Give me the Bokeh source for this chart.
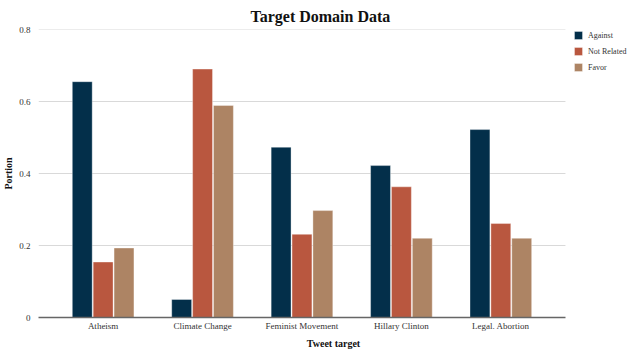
from bokeh.plotting import figure
from bokeh.models import Range1d, ColumnDataSource, Legend, LegendItem, FixedTicker
from bokeh.transform import dodge
from bokeh.embed import file_html
from bokeh.resources import INLINE

targets = ["Atheism", "Climate Change", "Feminist Movement", "Hillary Clinton", "Legal. Abortion"]
against = [0.655, 0.05, 0.473, 0.422, 0.522]
not_related = [0.154, 0.69, 0.231, 0.363, 0.261]
favor = [0.193, 0.589, 0.297, 0.22, 0.22]
series_names = ["Against", "Not Related", "Favor"]
colors = ["#032f4a", "#b9573f", "#ad8464"]
y_ticks = [0, 0.2, 0.4, 0.6, 0.8]

FONT = "Liberation Serif"

n = len(targets)
idx = list(range(n))
cat_start, cat_end = -0.65, n - 1 + 0.65
src = ColumnDataSource(dict(x=idx, target=targets, against=against, not_related=not_related, favor=favor))

FW, FH = 590, 288
p = figure(frame_width=FW, frame_height=FH, x_range=Range1d(cat_start, cat_end + 0.634),
           y_range=Range1d(0, 0.8),
           output_backend="svg", toolbar_location=None,
           min_border_left=0, min_border_right=0, min_border_top=0, min_border_bottom=0)

p.title.text = "Target Domain Data"
p.title.align = "left"
p.title.text_font = FONT
p.title.text_font_size = "16px"
p.title.text_font_style = "bold"
p.title.text_color = "#111111"
p.title.offset = 212
p.title.standoff = 10

# horizontal grid lines limited to the category span
grid_src = ColumnDataSource(dict(y=y_ticks[1:], x0=[cat_start] * (len(y_ticks) - 1),
                                 x1=[cat_end] * (len(y_ticks) - 1)))
p.segment(x0="x0", x1="x1", y0="y", y1="y", source=grid_src,
          line_color="#d9d9d9", line_width=1, level="underlay")

w = 0.2
renderers = []
for col, off, c in zip(["against", "not_related", "favor"], [-0.21, 0.0, 0.21], colors):
    r = p.vbar(x=dodge("x", off), top=col, width=w, source=src,
               fill_color=c, line_color="white", line_alpha=0.35, line_width=1)
    renderers.append(r)

legend = Legend(items=[LegendItem(label=nm, renderers=[r]) for nm, r in zip(series_names, renderers)],
                location=(535, FH - 43))
legend.label_text_font = FONT
legend.label_text_font_size = "8px"
legend.label_text_color = "#333333"
legend.glyph_width = 10
legend.glyph_height = 10
legend.label_height = 10
legend.spacing = 6
legend.padding = 0
legend.margin = 0
legend.border_line_color = None
legend.background_fill_alpha = 0
legend.label_standoff = 5
p.add_layout(legend)

p.xaxis.axis_label = "Tweet target"
p.yaxis.axis_label = "Portion"
for ax in (p.xaxis, p.yaxis):
    ax.axis_label_text_font = FONT
    ax.axis_label_text_font_style = "bold"
    ax.axis_label_text_font_size = "10px"
    ax.axis_label_text_color = "#111111"
    ax.major_label_text_font = FONT
    ax.major_label_text_font_size = "9px"
    ax.major_label_text_color = "#333333"
    ax.major_tick_line_color = None
    ax.minor_tick_line_color = None
    ax.major_tick_out = 0
    ax.major_tick_in = 0
    ax.minor_tick_out = 0
    ax.minor_tick_in = 0

p.xaxis.ticker = FixedTicker(ticks=idx)
p.xaxis.major_label_overrides = {i: t for i, t in zip(idx, targets)}
p.xaxis.bounds = (cat_start, cat_end)
p.xaxis.axis_line_color = "#666666"
p.xaxis.axis_line_width = 1.5
p.xaxis.major_label_standoff = 3
p.xaxis.axis_label_standoff = 4

p.yaxis.axis_line_color = None
p.yaxis.ticker = FixedTicker(ticks=y_ticks)
p.yaxis.major_label_overrides = {t: f"{t:g}" for t in y_ticks}
p.yaxis.major_label_standoff = 8
p.yaxis.axis_label_standoff = 2

p.xgrid.grid_line_color = None
p.ygrid.grid_line_color = None
p.outline_line_color = None
p.background_fill_color = "white"

open("out.html", "w").write(file_html(p, INLINE))
